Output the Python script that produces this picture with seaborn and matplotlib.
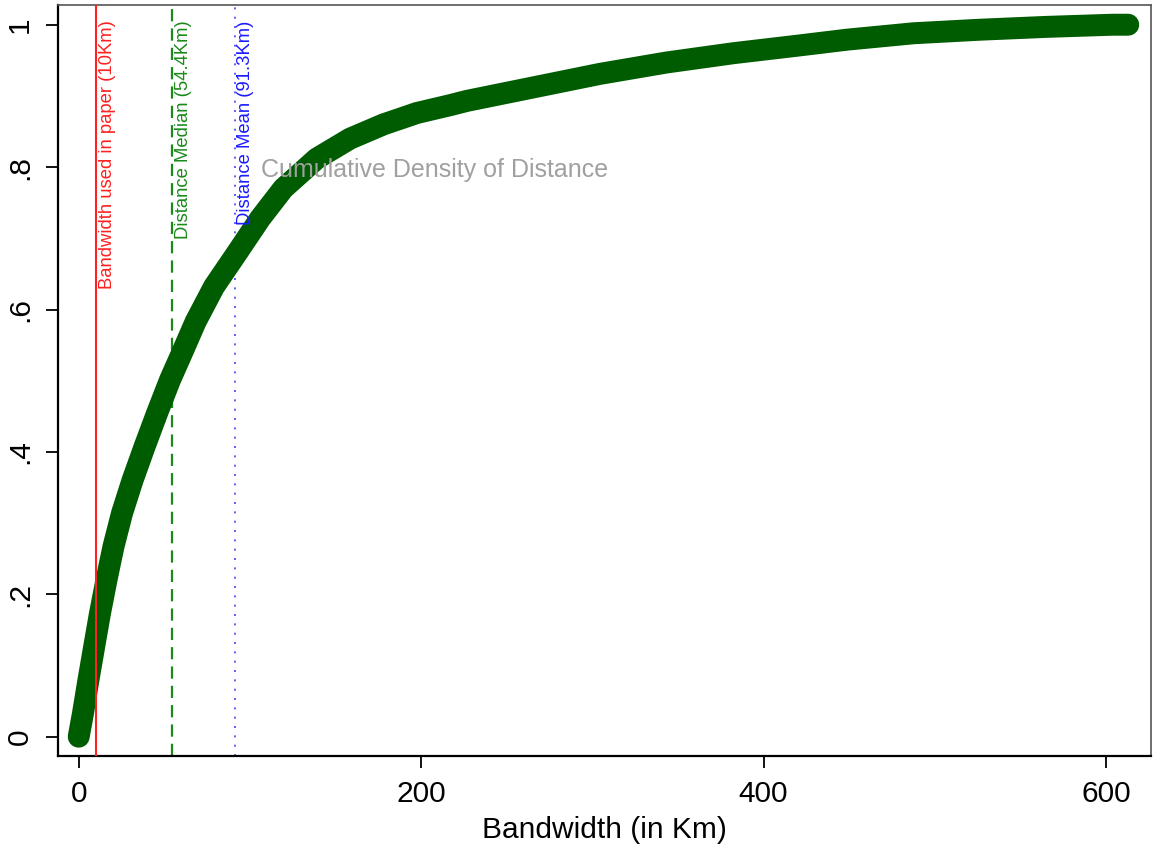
import matplotlib
matplotlib.use("Agg")
import matplotlib.pyplot as plt
import seaborn as sns
import pandas as pd

# Data (cumulative share of distances)
distance_km = [0, 2.5, 5.7, 9.0, 12.4, 16.2, 20.3, 25.3, 31.4, 38.4, 45.7, 53.3,
               60.5, 68.3, 79.0, 92.3, 106, 119.5, 139, 158.5, 178, 197.5,
               216.9, 226.7, 265.6, 304.5, 343.5, 382.4, 421.3, 448.7, 487.6,
               526.5, 565.5, 604, 613]
cum_density = [0, 0.033, 0.080, 0.126, 0.173, 0.220, 0.267, 0.314, 0.360, 0.407,
               0.454, 0.501, 0.540, 0.583, 0.632, 0.679, 0.728, 0.770,
               0.812, 0.840, 0.860, 0.876, 0.887, 0.893, 0.912, 0.931, 0.947,
               0.960, 0.971, 0.979, 0.988, 0.993, 0.997, 1.0, 1.0]

vline_values = [10, 54.4, 91.3]
vline_labels = ["Bandwidth used in paper (10Km)", "Distance Median (54.4Km)",
                "Distance Mean (91.3Km)"]
vline_colors = ["#ff2020", "#1a8a1a", "#5c5cff"]
label_colors = ["#ff2020", "#1a8a1a", "#1a1aff"]

x_ticks = [0, 200, 400, 600]
y_ticks = [0, 0.2, 0.4, 0.6, 0.8, 1.0]
y_ticklabels = ["0", ".2", ".4", ".6", ".8", "1"]

df = pd.DataFrame({"distance": distance_km, "cdf": cum_density})

sns.set_theme(style="white")
plt.rcParams["font.family"] = ["Liberation Sans", "DejaVu Sans"]
plt.rcParams["text.color"] = "black"
plt.rcParams["axes.labelcolor"] = "black"
plt.rcParams["xtick.color"] = "black"
plt.rcParams["ytick.color"] = "black"

fig = plt.figure(figsize=(11.54, 8.46), dpi=100)
ax = fig.add_axes([58 / 1154, 90 / 846, (1151 - 58) / 1154, (841 - 90) / 846])

sns.lineplot(data=df, x="distance", y="cdf", sort=False, ax=ax, color="#005c00",
             linewidth=15.8, solid_capstyle="round", solid_joinstyle="round",
             zorder=3)

# Vertical reference lines
ax.axvline(vline_values[0], color=vline_colors[0], lw=1.5, ls="-", zorder=4)
ax.axvline(vline_values[1], color=vline_colors[1], lw=1.6, ls=(0, (5.5, 3.2)), zorder=2)
ax.axvline(vline_values[2], color=vline_colors[2], lw=1.4, ls=(0, (1.0, 3.8)), zorder=2)

label_x = [12.0, 56.3, 92.6]
for xv, lab, col in zip(label_x, vline_labels, label_colors):
    ax.text(xv, 1.006, lab, rotation=90, ha="left", va="top", color=col,
            fontsize=13.3, zorder=5)

ax.text(106.6, 0.796, "Cumulative Density of Distance", color="#a0a0a0",
        fontsize=18, ha="left", va="center", zorder=5)

ax.set_xlim(-12.1, 626.3)
ax.set_ylim(-0.0271, 1.0277)
ax.set_xticks(x_ticks)
ax.set_xticklabels([str(t) for t in x_ticks])
ax.set_yticks(y_ticks)
ax.set_yticklabels(y_ticklabels, rotation=90, va="center")

ax.set_xlabel("Bandwidth (in Km)", fontsize=21.5, labelpad=6, color="black")
ax.set_ylabel("")

ax.tick_params(axis="both", which="major", direction="out", length=8.6, width=1.3,
               color="black", labelcolor="black", labelsize=21.5, pad=8.5,
               bottom=True, left=True)

for side in ["left", "bottom"]:
    ax.spines[side].set_color("black")
    ax.spines[side].set_linewidth(1.6)
for side in ["top", "right"]:
    ax.spines[side].set_color("#555555")
    ax.spines[side].set_linewidth(1.2)

ax.grid(False)
fig.savefig("out.png", dpi=100, facecolor="white")
